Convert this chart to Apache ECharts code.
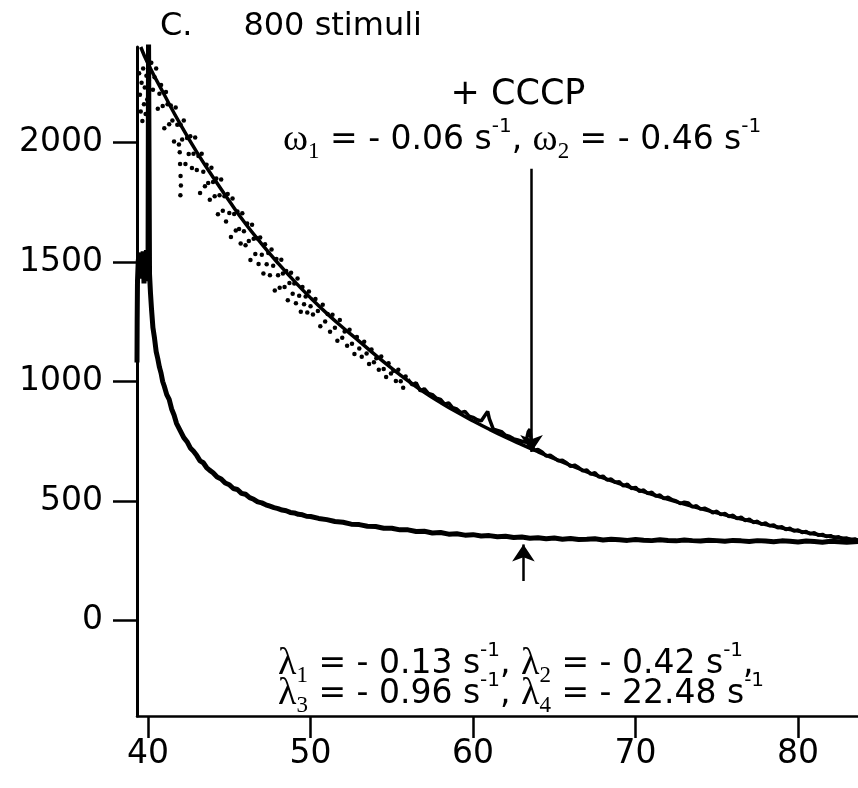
<!DOCTYPE html>
<html>
<head>
<meta charset="utf-8">
<script src="https://cdn.jsdelivr.net/npm/echarts@6/dist/echarts.min.js"></script>
<style>html,body{margin:0;padding:0;background:#fff}#c{width:858px;height:788px}</style>
</head>
<body>
<div id="c"></div>
<script>
// ---- axis ticks ----
const xTicks = [40, 50, 60, 70, 80];
const yTicks = [0, 500, 1000, 1500, 2000];

// ---- control trace (lower) [time s, signal] ----
const controlTrace = [
  [39.32,1080],[39.33,1250],[39.35,1420],[39.4,1510],[39.45,1460],[39.5,1540],[39.55,1430],[39.6,1520],
  [39.65,1450],[39.7,1545],[39.75,1410],[39.8,1530],[39.85,1460],[39.9,1550],[39.95,1420],[40.0,1500],
  [40.03,2450],[40.07,2450],[40.09,1450],[40.15,1370],[40.22,1297],[40.3,1225],[40.4,1180],[40.5,1125],
  [40.6,1095],[40.7,1060],[40.8,1035],[40.9,1000],[41.0,980],[41.15,945],[41.3,925],[41.45,885],
  [41.6,860],[41.75,825],[41.9,805],[42.05,785],[42.2,765],[42.4,748],[42.6,722],[42.8,708],
  [43.0,690],[43.2,668],[43.4,660],[43.6,640],[43.8,628],[44.0,618],[44.25,600],[44.5,592],
  [44.75,575],[45.0,568],[45.25,552],[45.5,548],[45.75,532],[46.0,528],[46.25,514],[46.5,507],
  [46.75,496],[47.0,492],[47.25,484],[47.5,478],[47.75,472],[48.0,468],[48.25,462],[48.5,459],
  [48.75,452],[49.0,450],[49.25,444],[49.5,442],[49.75,436],[50.0,435],[50.5,427],[51.0,422],
  [51.5,414],[52.0,411],[52.5,403],[53.0,401],[53.5,394],[54.0,393],[54.5,386],[55.0,386],
  [55.5,379],[56.0,379],[56.5,372],[57.0,373],[57.5,366],[58.0,368],[58.5,361],[59.0,363],
  [59.5,357],[60.0,359],[60.5,353],[61.0,355],[61.5,350],[62.0,352],[62.5,347],[63.0,349],
  [63.5,344],[64.0,346],[64.5,342],[65.0,345],[65.5,340],[66.0,343],[66.5,339],[67.0,340],
  [67.5,342],[68.0,337],[68.5,340],[69.0,338],[69.5,335],[70.0,339],[70.5,336],[71.0,334],
  [71.5,338],[72.0,335],[72.5,333],[73.0,337],[73.5,334],[74.0,332],[74.5,336],[75.0,334],
  [75.5,331],[76.0,335],[76.5,333],[77.0,330],[77.5,334],[78.0,332],[78.5,329],[79.0,333],
  [79.5,331],[80.0,328],[80.5,332],[81.0,330],[81.5,327],[82.0,331],[82.5,329],[83.0,327],
  [83.69,330]
];

// ---- +CCCP fitted curve ----
const cccpFit = [
  [39.55,2400],[40,2330],[41,2200],[42,2075],[43,1960],[44,1855],[45,1755],[46,1660],[47,1575],
  [48,1495],[49,1420],[50,1350],[51,1285],[52,1225],[53,1168],[54,1110],[55,1055],[56,1003],
  [57,955],[58,912],[59,872],[60,835],[61,800],[62,767],[63,736],[64,706],[65,677],[66,649],
  [67,622],[68,597],[69,573],[70,550],[71,528],[72,507],[73,487],[74,468],[75,450],[76,433],
  [77,417],[78,401],[79,387],[80,374],[81,362],[82,351],[83,342],[83.69,337]
];

// ---- +CCCP measured points, early scattered part ----
const cccpDataEarly = [
  [39.45,2290],[39.5,2200],[39.55,2130],[39.6,2250],[39.65,2090],[39.7,2310],[39.75,2160],[39.8,2230],
  [39.85,2120],[39.9,2280],[39.95,2180],[40.0,2340],[40.05,2260],
  [40.1,2297],[40.2,2334],[40.3,2221],[40.4,2273],[40.5,2310],[40.6,2142],[40.7,2204],[40.8,2241],
  [40.9,2153],[41.0,2060],[41.1,2212],[41.2,2160],[41.3,2077],[41.4,2155],[41.5,2092],[41.6,2005],
  [41.7,2147],[41.8,2075],[41.9,1992],[42.0,2075],
  [41.95,1960],[41.97,1910],[42.0,1860],[42.02,1820],[41.99,1780],
  [42.1,2013],[42.2,2092],[42.3,1910],[42.4,2019],[42.5,1952],[42.6,2026],[42.7,1894],[42.8,1953],
  [42.9,2021],[43.0,1885],[43.1,1944],[43.2,1789],[43.3,1953],[43.4,1878],[43.5,1817],[43.6,1907],
  [43.7,1831],[43.8,1761],[43.9,1895],[44.0,1835],[44.1,1775],[44.2,1850],[44.3,1700],[44.4,1780],
  [44.5,1845],[44.6,1715],[44.7,1775],[44.8,1670],[44.9,1785],[45.0,1705],[45.1,1605],[45.2,1766],
  [45.3,1701],[45.4,1632],[45.5,1712],[45.6,1638],[45.7,1578],[45.8,1704],[45.9,1629],[46.0,1570],
  [46.1,1661],[46.2,1588],[46.3,1509],[46.4,1656],[46.5,1597],[46.6,1534],[46.7,1600],[46.8,1492],
  [46.9,1603],[47.0,1530],[47.1,1452],[47.2,1574],[47.3,1491],[47.4,1538],[47.5,1445],[47.6,1552],
  [47.7,1484],[47.8,1381],[47.9,1513],[48.0,1445],[48.1,1392],[48.2,1510],[48.3,1452],[48.4,1395],
  [48.5,1462],[48.6,1340],[48.7,1412],[48.8,1455],[48.9,1367],[49.0,1410],[49.1,1328],[49.2,1431],
  [49.3,1359],[49.4,1292],[49.5,1395],[49.6,1323],[49.7,1356],[49.8,1289],[49.9,1377],[50.0,1315],
  [50.15,1280],[50.3,1345],[50.45,1295],[50.6,1231],[50.75,1321],[50.9,1251],[51.05,1283],[51.2,1208],
  [51.35,1279],[51.5,1225],[51.65,1171],[51.8,1257],[51.95,1183],[52.1,1209],[52.25,1150],[52.4,1217],
  [52.55,1158],[52.7,1115],[52.85,1186],[53.0,1138],[53.15,1104],[53.3,1166],[53.45,1117],[53.6,1073],
  [53.75,1134],[53.9,1081],[54.05,1097],[54.2,1049],[54.35,1105],[54.5,1052],[54.65,1019],[54.8,1076],
  [54.95,1033],[55.1,1045],[55.25,1002],[55.4,1049],[55.55,1001],[55.7,974],[55.85,1021]
];

// ---- +CCCP measured trace, late dense part ----
const cccpDataLate = [
  [56.0,1010],[56.25,985],[56.5,995],[56.75,960],[57.0,970],[57.25,950],[57.5,945],[57.75,930],
  [58.0,925],[58.25,905],[58.5,910],[58.75,890],[59.0,885],[59.25,870],[59.5,875],[59.75,855],
  [60.0,850],[60.25,840],[60.5,835],[60.75,860],[60.9,875],[61.0,845],[61.25,800],[61.5,795],
  [61.75,790],[62.0,775],[62.25,770],[62.5,760],[62.75,755],[63.0,750],[63.25,745],[63.4,790],
  [63.5,800],[63.6,740],[63.75,712],[64.0,715],[64.25,705],[64.5,688],[64.75,692],[65.0,680],
  [65.25,668],[65.5,670],[65.75,660],[66.0,645],[66.25,650],[66.5,640],[66.75,626],[67.0,630],
  [67.25,612],[67.5,618],[67.75,600],[68.0,604],[68.25,588],[68.5,592],[68.75,578],[69.0,580],
  [69.25,563],[69.5,570],[69.75,552],[70.0,557],[70.25,540],[70.5,546],[70.75,531],[71.0,537],
  [71.25,520],[71.5,525],[71.75,510],[72.0,516],[72.25,505],[72.5,500],[72.75,489],[73.0,495],
  [73.25,492],[73.5,475],[73.75,480],[74.0,466],[74.25,470],[74.5,462],[74.75,450],[75.0,457],
  [75.25,443],[75.5,448],[75.75,435],[76.0,440],[76.25,426],[76.5,432],[76.75,418],[77.0,424],
  [77.25,410],[77.5,415],[77.75,402],[78.0,408],[78.25,396],[78.5,400],[78.75,388],[79.0,392],
  [79.25,380],[79.5,386],[79.75,374],[80.0,379],[80.25,368],[80.5,372],[80.75,362],[81.0,367],
  [81.25,356],[81.5,360],[81.75,351],[82.0,355],[82.25,346],[82.5,350],[82.75,341],[83.0,345],
  [83.25,338],[83.5,341],[83.69,335]
];

// ---- annotation arrows (data coords) ----
const cccpArrow = [[63.6, 1890], [63.6, 705]];
const controlArrow = [[63.1, 165], [63.1, 318]];

const chart = echarts.init(document.getElementById('c'), null, {renderer: 'canvas'});
const SANS = 'DejaVu Sans';
const SERIF = 'Liberation Serif';
const rich = {
  t:   {fontFamily: SANS,  fontSize: 33, lineHeight: 46, verticalAlign: 'middle', fill: '#000'},
  g:   {fontFamily: SERIF, fontSize: 38, lineHeight: 46, verticalAlign: 'middle', fill: '#000'},
  sub: {fontFamily: SERIF, fontSize: 23, lineHeight: 23, verticalAlign: 'bottom', fill: '#000'},
  sup: {fontFamily: SANS,  fontSize: 20, lineHeight: 23, verticalAlign: 'top', fill: '#000'}
};
function richText(x, y, text) {
  return {type: 'text', x: x, y: y, silent: true,
    style: {text: text, rich: rich, align: 'left', verticalAlign: 'middle', fill: '#000'}};
}
function arrowLine(pair) {
  return {
    silent: true, symbol: ['none', 'arrow'], symbolSize: 17,
    itemStyle: {color: '#000'},
    label: {show: false}, emphasis: {disabled: true},
    lineStyle: {color: '#000', width: 2.5, type: 'solid'},
    data: [[{coord: pair[0]}, {coord: pair[1]}]]
  };
}

const axisBlack = {color: '#000', width: 2.5};
chart.setOption({
  animation: false,
  backgroundColor: '#fff',
  grid: {left: 137, right: 0, top: 47, bottom: 72},
  xAxis: {
    type: 'value', min: 39.32, max: 83.69,
    axisLine: {onZero: false, lineStyle: axisBlack},
    axisTick: {show: true, customValues: xTicks, length: 22, lineStyle: axisBlack},
    axisLabel: {customValues: xTicks, formatter: v => String(v), fontFamily: SANS, fontSize: 33, color: '#000', margin: 22},
    splitLine: {show: false}
  },
  yAxis: {
    type: 'value', min: -400, max: 2400,
    axisLine: {show: true, onZero: false, lineStyle: {color: '#000', width: 3}},
    axisTick: {show: true, customValues: yTicks, length: 24, lineStyle: axisBlack},
    axisLabel: {customValues: yTicks, formatter: v => String(v), fontFamily: SANS, fontSize: 33, color: '#000', margin: 34},
    splitLine: {show: false}
  },
  series: [
    {
      type: 'line', data: controlTrace, showSymbol: false, symbol: 'none', color: '#000',
      lineStyle: {color: '#000', width: 5}, clip: true, silent: true,
      markLine: arrowLine(controlArrow)
    },
    {
      type: 'line', data: cccpFit, showSymbol: false, symbol: 'none', smooth: true, color: '#000',
      lineStyle: {color: '#000', width: 3.5}, clip: true, silent: true,
      markLine: arrowLine(cccpArrow)
    },
    {
      type: 'scatter', data: cccpDataEarly, symbol: 'circle', symbolSize: 4.5,
      itemStyle: {color: '#000', opacity: 1}, clip: true, silent: true
    },
    {
      type: 'line', data: cccpDataLate, showSymbol: false, symbol: 'none', color: '#000',
      lineStyle: {color: '#000', width: 3.5}, clip: true, silent: true
    }
  ],
  graphic: [
    {type: 'text', x: 160, y: 27, silent: true,
      style: {text: 'C.     800 stimuli', font: '32px "DejaVu Sans"', fill: '#000', verticalAlign: 'middle'}},
    {type: 'text', x: 518, y: 95, silent: true,
      style: {text: '+ CCCP', font: '35px "DejaVu Sans"', fill: '#000', align: 'center', verticalAlign: 'middle'}},
    richText(283, 140, '{g|ω}{sub|1}{t| = - 0.06 s}{sup|-1}{t|, }{g|ω}{sub|2}{t| = - 0.46 s}{sup|-1}'),
    richText(278, 664, '{g|λ}{sub|1}{t| = - 0.13 s}{sup|-1}{t|, }{g|λ}{sub|2}{t| = - 0.42 s}{sup|-1}{t|,}'),
    richText(278, 694, '{g|λ}{sub|3}{t| = - 0.96 s}{sup|-1}{t|, }{g|λ}{sub|4}{t| = - 22.48 s}{sup|-1}')
  ]
});
</script>
</body>
</html>
